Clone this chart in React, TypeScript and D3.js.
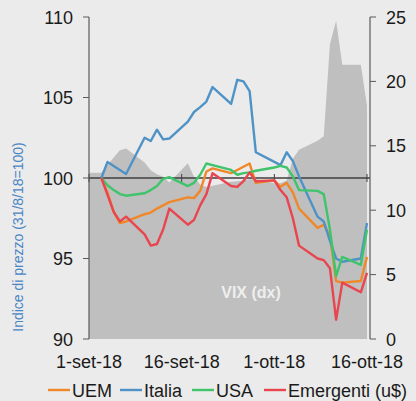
import React from "react";
import * as d3 from "d3";

// business days, base 31/8/18 = 100
const dates = [
  "2018-09-03", "2018-09-04", "2018-09-05", "2018-09-06", "2018-09-07",
  "2018-09-10", "2018-09-11", "2018-09-12", "2018-09-13", "2018-09-14",
  "2018-09-17", "2018-09-18", "2018-09-19", "2018-09-20", "2018-09-21",
  "2018-09-24", "2018-09-25", "2018-09-26", "2018-09-27", "2018-09-28",
  "2018-10-01", "2018-10-02", "2018-10-03", "2018-10-04", "2018-10-05",
  "2018-10-08", "2018-10-09", "2018-10-10", "2018-10-11", "2018-10-12",
  "2018-10-15", "2018-10-16",
];

const uem = [
  100, 99.1, 97.9, 97.2, 97.3, 97.75, 97.85, 98.1, 98.3, 98.5, 98.8, 98.75,
  99.2, 100.4, 100.6, 100.3, 100.5, 100.7, 100.9, 99.7, 99.85, 99.45, 99.7,
  99.1, 98.1, 96.9, 97.1, 96.4, 93.6, 93.5, 93.6, 95.1,
];
const italia = [
  100, 101.0, 100.75, 100.5, 100.25, 102.5, 102.3, 103.0, 102.4, 102.45,
  103.5, 104.1, 104.4, 104.75, 105.65, 104.6, 106.1, 106.0, 105.4, 101.6,
  101.0, 100.8, 101.6, 101.05, 100.1, 97.6, 97.3, 96.1, 95.0, 94.8, 95.0, 97.2,
];
const usa = [
  100, 99.55, 99.25, 99.0, 98.9, 99.05, 99.25, 99.5, 99.95, 100.05, 99.5,
  99.7, 100.2, 100.9, 100.8, 100.5, 100.2, 100.3, 100.35, 100.45, 100.65,
  100.75, 100.65, 100.1, 99.25, 99.2, 99.0, 96.8, 93.9, 95.1, 94.6, 96.8,
];
const emergenti = [
  100, 98.95, 97.9, 97.3, 97.6, 96.5, 95.8, 95.9, 96.8, 98.1, 97.1, 97.4,
  98.3, 99.0, 100.3, 99.5, 99.45, 99.8, 100.35, 99.8, 99.85, 99.25, 98.8,
  97.5, 95.8, 95.0, 94.9, 94.4, 91.2, 93.5, 92.9, 94.1,
];

// VIX (right axis), starts on 31/8
const vixDates = ["2018-08-31", ...dates];
const vix = [
  12.9, 12.9, 13.5, 14.1, 14.65, 14.8, 13.7, 13.1, 12.8, 12.6, 12.15, 13.65,
  12.6, 12.0, 11.8, 11.9, 12.2, 12.25, 12.3, 12.4, 12.4, 12.1, 12.1, 12.3,
  14.0, 14.7, 15.4, 15.75, 22.9, 24.7, 21.3, 21.3, 18.1,
];

const xTicks = ["2018-09-01", "2018-09-16", "2018-10-01", "2018-10-16"];
const xTickLabels = ["1-set-18", "16-set-18", "1-ott-18", "16-ott-18"];
const leftTicks = [90, 95, 100, 105, 110];
const rightTicks = [0, 5, 10, 15, 20, 25];

const series = [
  { name: "UEM", values: uem, color: "#f0882a" },
  { name: "Italia", values: italia, color: "#4f93c6" },
  { name: "USA", values: usa, color: "#3fc46c" },
  { name: "Emergenti (u$)", values: emergenti, color: "#e9454f" },
];
const legendX = [48, 120, 192, 264];

const parse = d3.timeParse("%Y-%m-%d");
const font = "'Liberation Sans', Arial, sans-serif";

export default function App() {
  const W = 416;
  const H = 401;
  const left = 89;
  const right = 370;
  const top = 17;
  const bottom = 339;

  const x = d3
    .scaleTime()
    .domain([parse("2018-09-01")!, parse("2018-10-16")!])
    .range([left, 367]);
  const yL = d3.scaleLinear().domain([90, 110]).range([bottom, top]);
  const yR = d3.scaleLinear().domain([0, 25]).range([bottom, top]);

  const xs = dates.map((d) => x(parse(d)!));

  const area = d3
    .area<number>()
    .x((_, i) => x(parse(vixDates[i])!))
    .y0(yR(0))
    .y1((v) => yR(v));

  const line = d3
    .line<number>()
    .x((_, i) => xs[i])
    .y((v) => yL(v));

  return (
    <svg
      width={W}
      height={H}
      style={{ position: "absolute", left: 0, top: 0, fontFamily: font }}
    >
      <defs>
        <clipPath id="plot">
          <rect x={left} y={top} width={right - left} height={bottom - top} />
        </clipPath>
      </defs>
      <rect width={W} height={H} fill="#ebebeb" />

      <path d={area(vix) as string} fill="#bfbfbf" clipPath="url(#plot)" />

      <text
        x={251}
        y={298}
        textAnchor="middle"
        fontSize={16}
        fontWeight="bold"
        fill="#eeeeee"
      >
        VIX (dx)
      </text>

      {/* horizontal axis at 100 */}
      <line x1={left} x2={right} y1={yL(100)} y2={yL(100)} stroke="#3f3f3f" strokeWidth={1.5} />
      {xTicks.map((t) => (
        <line
          key={t}
          x1={x(parse(t)!)}
          x2={x(parse(t)!)}
          y1={yL(100) - 4}
          y2={yL(100) + 4}
          stroke="#3f3f3f"
          strokeWidth={1}
        />
      ))}

      {series.map((s) => (
        <path
          key={s.name}
          d={line(s.values) as string}
          fill="none"
          stroke={s.color}
          strokeWidth={2.4}
          strokeLinejoin="round"
        />
      ))}

      {/* left axis */}
      <line x1={left} x2={left} y1={top} y2={bottom} stroke="#5a5a5a" strokeWidth={1.2} />
      {leftTicks.map((t) => (
        <g key={t}>
          <line x1={left - 6} x2={left} y1={yL(t)} y2={yL(t)} stroke="#5a5a5a" />
          <text x={left - 16} y={yL(t) + 6.5} textAnchor="end" fontSize={18} fill="#1a1a1a">
            {t}
          </text>
        </g>
      ))}

      {/* right axis */}
      <line x1={right} x2={right} y1={top} y2={bottom} stroke="#5a5a5a" strokeWidth={1.2} />
      {rightTicks.map((t) => (
        <g key={t}>
          <line x1={right} x2={right + 6} y1={yR(t)} y2={yR(t)} stroke="#5a5a5a" />
          <text x={right + 16} y={yR(t) + 6.5} fontSize={18} fill="#1a1a1a">
            {t}
          </text>
        </g>
      ))}

      {xTicks.map((t, i) => (
        <text
          key={t}
          x={x(parse(t)!)}
          y={368}
          textAnchor="middle"
          fontSize={18}
          fill="#1a1a1a"
        >
          {xTickLabels[i]}
        </text>
      ))}

      <text
        transform={`translate(23,${(bottom + 135) / 2}) rotate(-90)`}
        textAnchor="middle"
        fontSize={14}
        fill="#4a86c5"
      >
        Indice di prezzo (31/8/18=100)
      </text>

      {series.map((s, i) => (
        <g key={s.name} transform={`translate(${legendX[i]},390)`}>
          <line x1={0} x2={22} y1={0} y2={0} stroke={s.color} strokeWidth={2.4} />
          <text x={24} y={6.5} fontSize={18} fill="#1a1a1a">
            {s.name}
          </text>
        </g>
      ))}
    </svg>
  );
}
